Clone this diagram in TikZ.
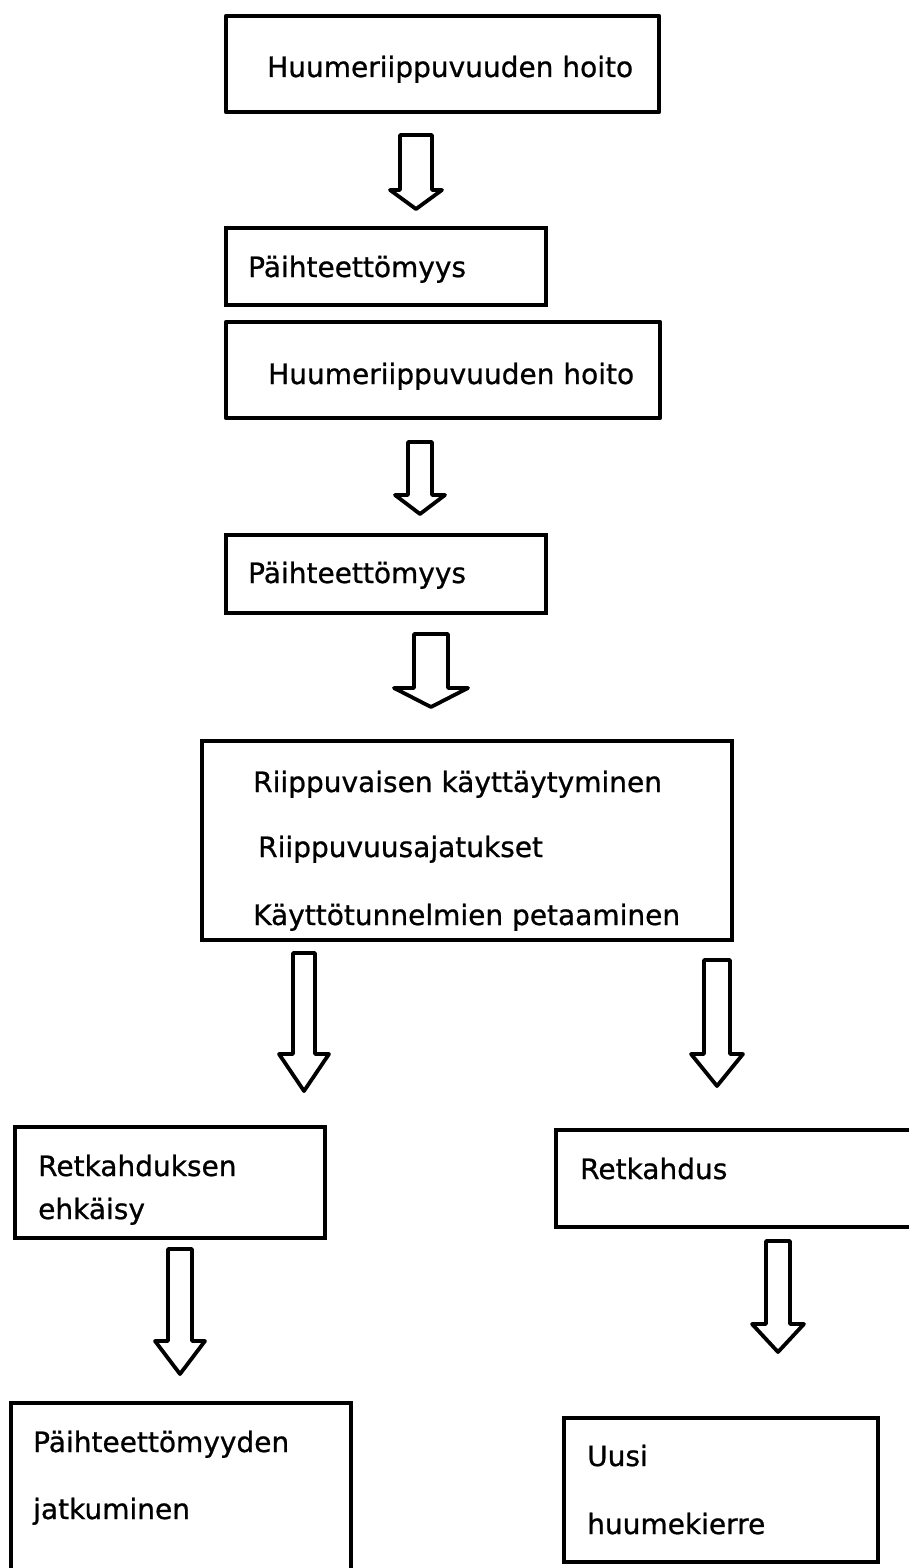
\documentclass[tikz,border=0pt]{standalone}
\usepackage{fontspec}
\setmainfont[FakeBold=0.8,AutoFakeBold=0.8]{DejaVu Sans}
\usetikzlibrary{calc}
\tikzset{
  thickbox/.style={draw=black, line width=4.8pt, line join=round},
  thinbox/.style={draw=black, line width=3.5pt, line join=miter},
  lbl/.style={anchor=base west, inner sep=0pt, font=\fontsize{28}{34}\selectfont\bfseries},
  blockarrow/.style={draw=black, line width=3.8pt, line join=round, fill=white}
}
% block arrow: name, cx, top, heady, tipy, shaft half width, head half width
\newcommand\blockarr[7]{%
  \coordinate (#1) at (#2,#3);
  \draw[blockarrow] ($(#1)+(-#6,0)$) -- ($(#1)+(#6,0)$) -- ($(#1)+(#6,#4-#3)$)
    -- ($(#1)+(#7,#4-#3)$) -- ($(#1)+(0,#5-#3)$) -- ($(#1)+(-#7,#4-#3)$)
    -- ($(#1)+(-#6,#4-#3)$) -- cycle;}
\begin{document}
\begin{tikzpicture}[x=1pt,y=-1pt]
\useasboundingbox[fill=white] (0,0) rectangle (909,1568);
% boxes
\draw[thickbox] (226,16) rectangle (659,112) coordinate (b1);
\node[lbl] (t1) at (267,77) {Huumeriippuvuuden hoito};
\draw[thinbox] (226,228) rectangle (546,305) coordinate (b2);
\node[lbl] (t2) at (248,277) {Päihteettömyys};
\draw[thickbox] (226,322) rectangle (660,418) coordinate (b3);
\node[lbl] (t3) at (268,384) {Huumeriippuvuuden hoito};
\draw[thinbox] (226,535) rectangle (546,613) coordinate (b4);
\node[lbl] (t4) at (248,583) {Päihteettömyys};
\draw[thinbox] (202,741) rectangle (732,940) coordinate (b5);
\node[lbl] (t5a) at (253,792) {Riippuvaisen käyttäytyminen};
\node[lbl] (t5b) at (258,857) {Riippuvuusajatukset};
\node[lbl] (t5c) at (253,925) {Käyttötunnelmien petaaminen};
\draw[thinbox] (15,1127) rectangle (325,1238) coordinate (b6);
\node[lbl] (t6a) at (38,1176) {Retkahduksen};
\node[lbl] (t6b) at (38,1219) {ehkäisy};
\draw[thinbox] (556,1130) rectangle (920,1227) coordinate (b7);
\node[lbl] (t7) at (580,1179) {Retkahdus};
\draw[thinbox] (11,1403) rectangle (351,1590) coordinate (b8);
\node[lbl] (t8a) at (33,1452) {Päihteettömyyden};
\node[lbl] (t8b) at (33,1519) {jatkuminen};
\draw[thinbox] (564,1418) rectangle (878,1562) coordinate (b9);
\node[lbl] (t9a) at (587,1466) {Uusi};
\node[lbl] (t9b) at (587,1534) {huumekierre};
% arrows
\blockarr{a1}{416}{135}{190}{209}{16}{26}
\blockarr{a2}{420}{442}{495}{514}{12}{25}
\blockarr{a3}{431}{634}{688}{707}{17}{37}
\blockarr{a4}{304}{953}{1054}{1091}{11}{25}
\blockarr{a5}{717}{960}{1054}{1086}{13}{26}
\blockarr{a6}{180}{1249}{1341}{1374}{12}{25}
\blockarr{a7}{778}{1241}{1324}{1352}{12}{26}
\end{tikzpicture}
\end{document}
